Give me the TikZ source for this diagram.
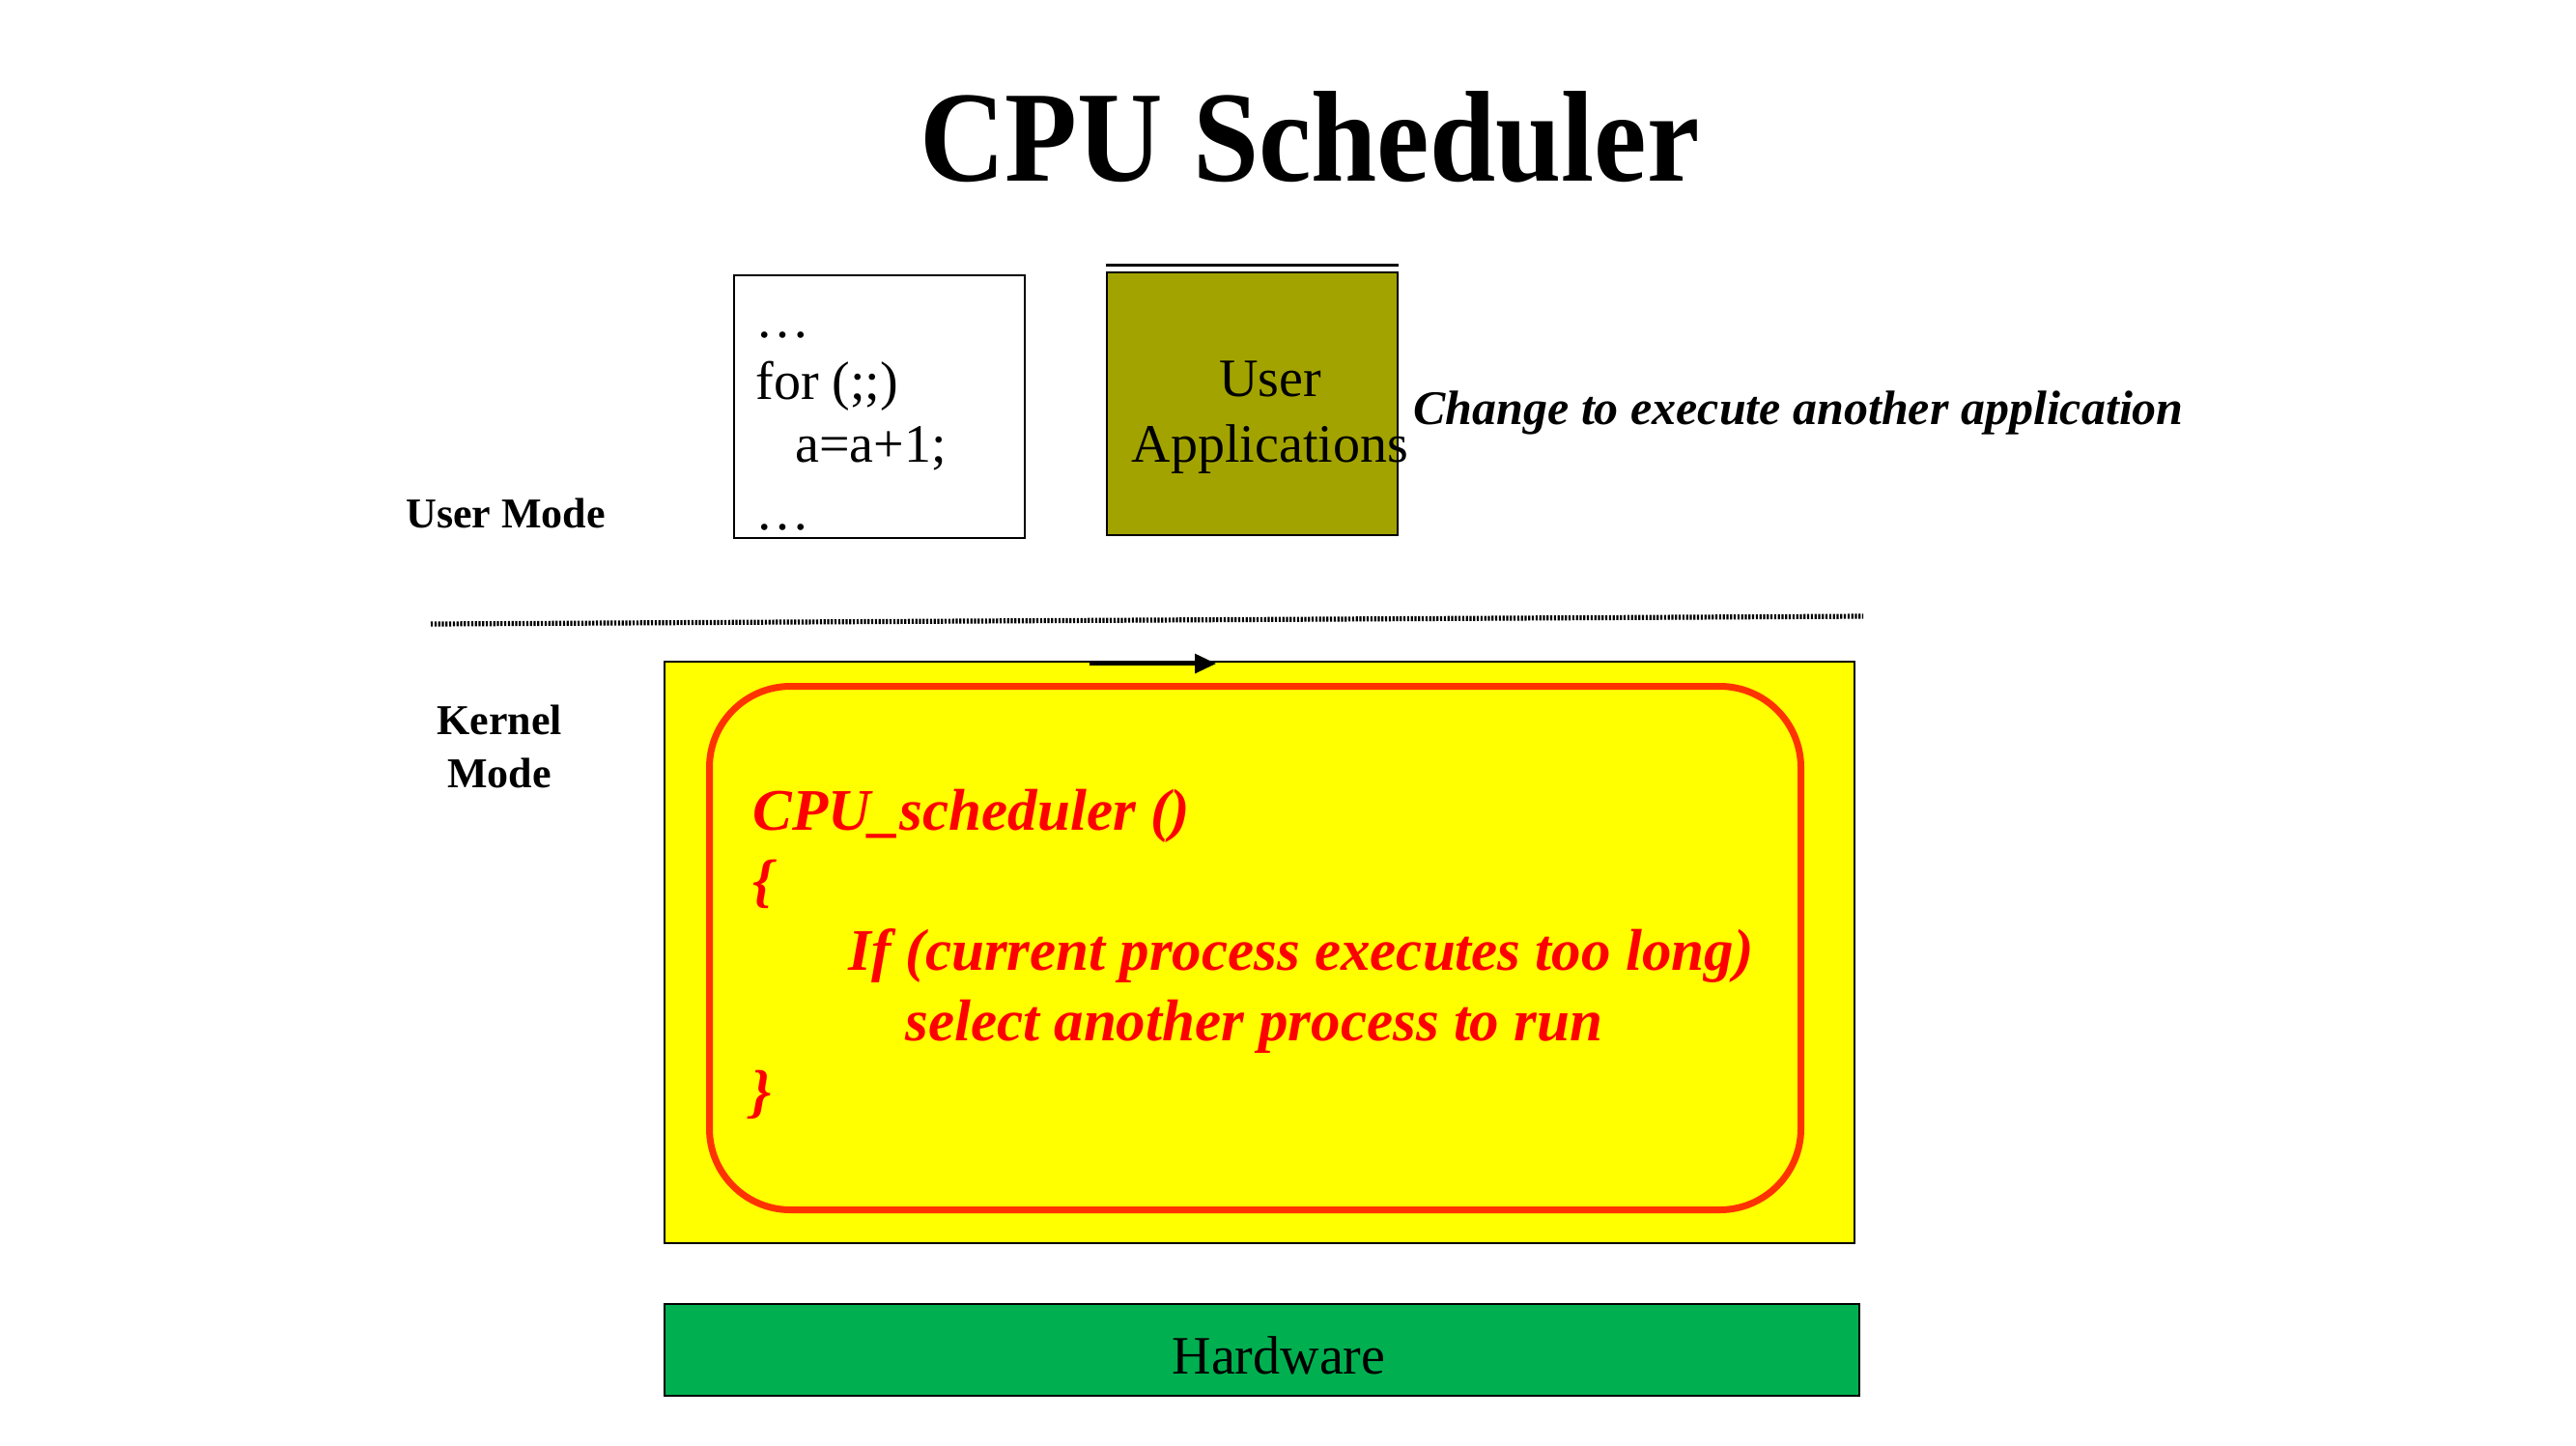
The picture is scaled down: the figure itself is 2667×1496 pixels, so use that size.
\documentclass[tikz,border=0pt]{standalone}
\usepackage{fontspec}
\setmainfont{Liberation Serif}
\usetikzlibrary{arrows.meta}
\definecolor{olivebox}{RGB}{163,163,0}
\definecolor{kernelyellow}{RGB}{255,255,0}
\definecolor{hwgreen}{RGB}{0,176,80}
\definecolor{loopred}{RGB}{255,51,0}
\definecolor{codered}{RGB}{255,0,0}
\begin{document}
\begin{tikzpicture}[x=0.5pt,y=-0.5pt,
  boxstyle/.style={draw=black,line width=1.2pt,inner sep=0pt,anchor=north west},
  plain/.style={inner sep=0pt,font=\fontsize{28pt}{33pt}\selectfont},
  modelabel/.style={inner sep=0pt,font=\fontsize{22pt}{27.5pt}\selectfont\bfseries},
  redcode/.style={inner sep=0pt,anchor=base west,text=codered,font=\fontsize{30.5pt}{36pt}\selectfont\bfseries\itshape}]
\useasboundingbox[fill=white] (0,0) rectangle (2667,1496);
% title
\node[inner sep=0pt,anchor=base,xscale=0.915,font=\fontsize{67pt}{80pt}\selectfont\bfseries] (title) at (1356,187) {CPU Scheduler};
% user mode label
\node[modelabel,anchor=base west] (umode) at (420,546) {User Mode};
% kernel mode label
\node[modelabel,anchor=base] (kmode1) at (517,760) {Kernel};
\node[modelabel,anchor=base] (kmode2) at (517,815) {Mode};
% code box
\node[boxstyle,fill=white,minimum width=150.5pt,minimum height=136pt] (code) at (759,284) {};
\node[plain,anchor=base west] (c1) at (782,349) {\dots};
\node[plain,anchor=base west] (c2) at (782,413) {for (;;)};
\node[plain,anchor=base west] (c3) at (823,478) {a=a+1;};
\node[plain,anchor=base west] (c4) at (782,548) {\dots};
% user applications box
\node[boxstyle,fill=olivebox,minimum width=150.5pt,minimum height=136pt] (ua) at (1145,281) {};
\draw[line width=1.5pt] (ua.north west) ++(0,-7) coordinate (uaL) -- (ua.north east |- uaL) coordinate (uaR);
\node[plain,anchor=base] (ua1) at (1315,410) {User};
\node[plain,anchor=base] (ua2) at (1315,478) {Applications};
% change label
\node[inner sep=0pt,anchor=base west,font=\fontsize{25pt}{30pt}\selectfont\bfseries\itshape] (change) at (1463,439) {Change to execute another application};
% dotted mode divider
\coordinate (dl1) at (446,646);
\coordinate (dl2) at (1929,638);
\draw[line width=2.6pt,dash pattern=on 1.1pt off 0.8pt] (dl1) -- (dl2);
% kernel box
\node[boxstyle,fill=kernelyellow,minimum width=616pt,minimum height=301pt] (kernel) at (687,684) {};
\node[draw=loopred,line width=3.5pt,rounded corners=42pt,inner sep=0pt,anchor=north west,minimum width=565pt,minimum height=271pt] (loop) at (731,707) {};
% arrow
\coordinate (arrS) at (1128,687);
\coordinate (arrE) at (1259,687);
\draw[line width=1.6pt,-{Triangle[length=11pt,width=10pt]}] (arrS) -- (arrE);
% red code
\node[redcode] (r1) at (779,859) {CPU\_scheduler ()};
\node[redcode] (r2) at (779,932) {\{};
\node[redcode] (r3) at (878,1004) {If (current process executes too long)};
\node[redcode] (r4) at (937,1077) {select another process to run};
\node[redcode] (r5) at (777,1150) {\}};
% hardware
\node[boxstyle,fill=hwgreen,minimum width=618.5pt,minimum height=47.5pt] (hw) at (687,1349) {};
\node[plain,anchor=base] (hwt) at (1324,1422) {Hardware};
\end{tikzpicture}
\end{document}
